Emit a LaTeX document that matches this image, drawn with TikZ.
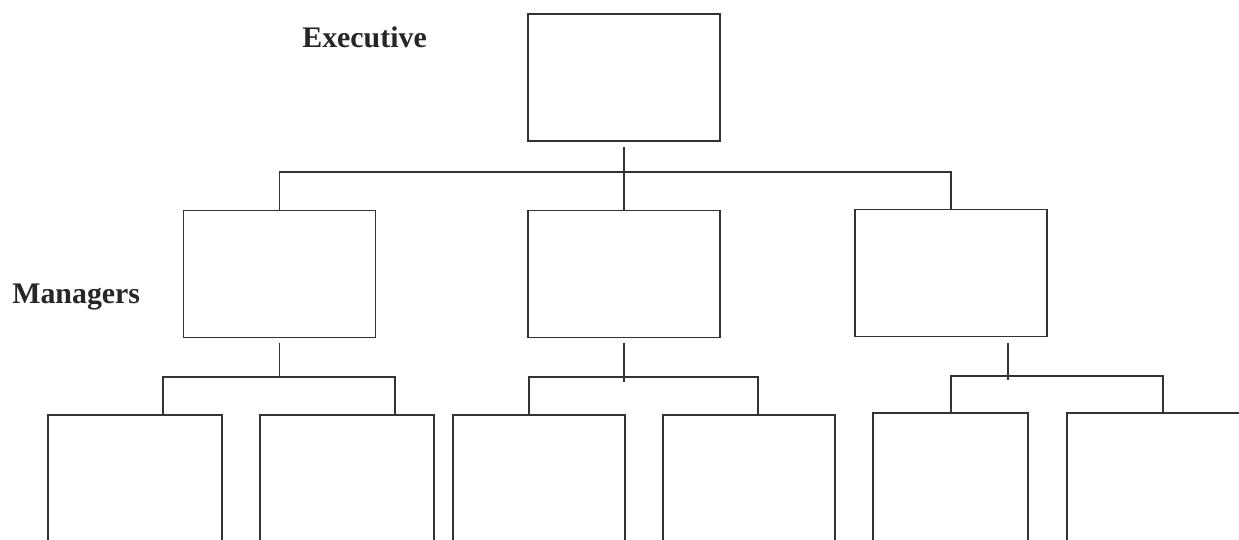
\documentclass[tikz,border=0pt]{standalone}
\usepackage{fontspec}
\setmainfont{Liberation Serif}
\usetikzlibrary{calc}

\begin{document}
\begin{tikzpicture}[x=0.02cm, y=-0.02cm,
    box/.style={draw=black!80, line width=0.75pt, inner sep=0pt, outer sep=0pt,
      minimum width=3.84cm, minimum height=2.54cm},
    staff/.style={box, minimum height=2.9cm},
    link/.style={draw=black!80, line width=0.75pt},
    level/.style={font=\fontsize{17}{20}\selectfont\bfseries, text=black!85,
      inner sep=0pt, anchor=base west}]
  \useasboundingbox (0,0) rectangle (1239,539);
  \clip (0,0) rectangle (1239,539);

  % Executive box
  \node[box] (exec) at (624,77.5) {};
  \node[level] (execlbl) at (302,47) {Executive};

  % Manager boxes
  \node[box] (mgrA) at (279.5,274) {};
  \node[box] (mgrB) at (624,274) {};
  \node[box] (mgrC) at (951,273) {};
  \node[level] (mgrlbl) at (12,303) {Managers};

  % Staff boxes (run off the page at the bottom)
  \foreach \n/\cx/\cy/\w in {b1/135/487.5/3.48, b2/347/487.5/3.48,
      b3/539/487.5/3.44, b4/749/487.5/3.44, b5/950.5/485.5/3.1, b6/1154/485.5/3.48}
    \node[staff, minimum width=\w cm] (\n) at (\cx,\cy) {};

  % Executive to managers
  \coordinate (execstem) at ($(exec.south)+(0,6)$);
  \coordinate (topbar) at (624,172);
  \draw[link] (execstem) -- (mgrB.north);
  \draw[link] (mgrA.north) |- (topbar) -| (mgrC.north);

  % Left manager to staff
  \coordinate (stemA) at ($(mgrA.south)+(0,5)$);
  \coordinate (barA) at (279.5,377);
  \coordinate (barAl) at (163,377);
  \coordinate (barAr) at (395,377);
  \draw[link] (stemA) -- (barA);
  \draw[link] (barAl |- b1.north) |- (barAr) -- (barAr |- b2.north);

  % Middle manager to staff
  \coordinate (stemB) at ($(mgrB.south)+(0,5)$);
  \coordinate (tailB) at (624,382);
  \coordinate (barBl) at (529,377);
  \coordinate (barBr) at (758,377);
  \draw[link] (stemB) -- (tailB);
  \draw[link] (barBl |- b3.north) |- (barBr) -- (barBr |- b4.north);

  % Right manager to staff
  \coordinate (stemC) at (1008,343);
  \coordinate (tailC) at (1008,380);
  \coordinate (barCl) at (951,376);
  \coordinate (barCr) at (1163,376);
  \draw[link] (stemC) -- (tailC);
  \draw[link] (barCl |- b5.north) |- (barCr) -- (barCr |- b6.north);
\end{tikzpicture}
\end{document}
